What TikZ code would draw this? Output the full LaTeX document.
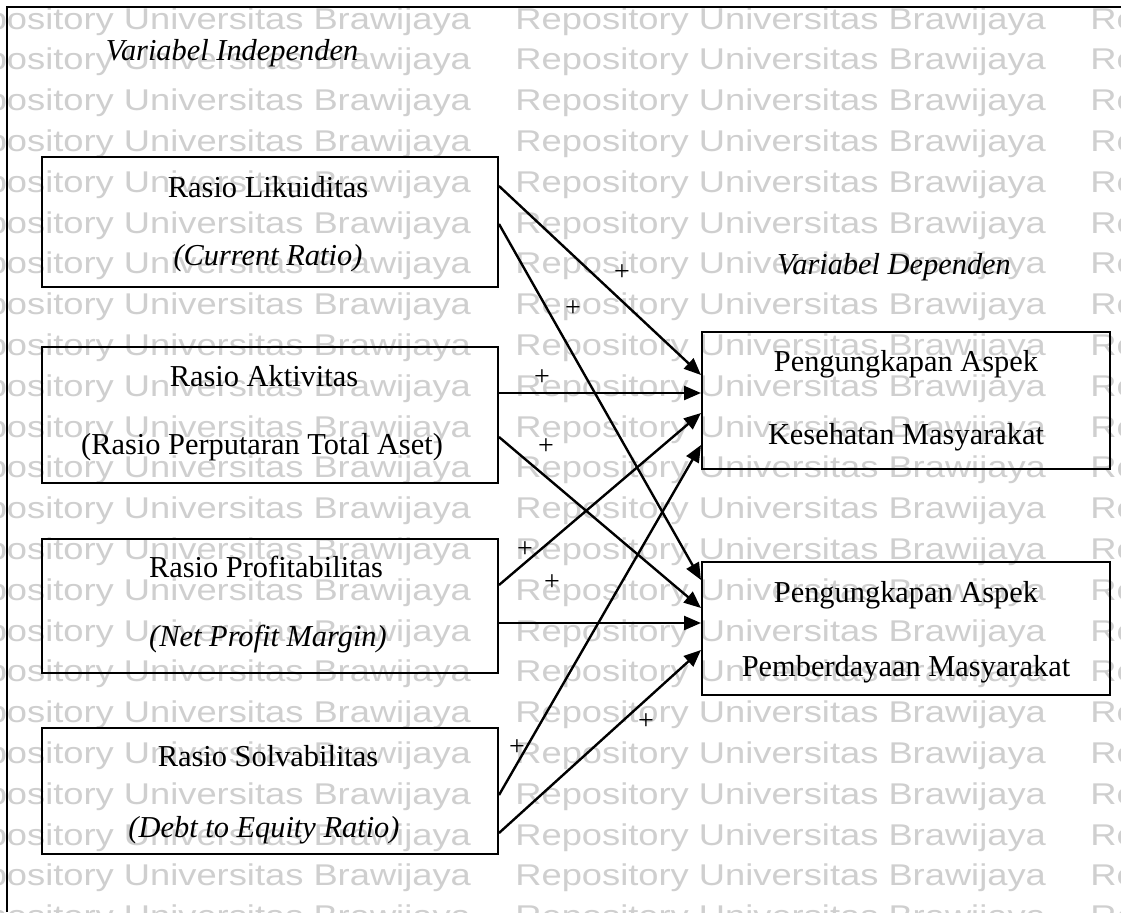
\documentclass[tikz,border=0pt]{standalone}
\usepackage{fontspec}
\setmainfont{Liberation Serif}
\newfontfamily\wmfont{Liberation Sans}
\usepackage{graphicx}
\usetikzlibrary{arrows.meta,calc}
\begin{document}
\begin{tikzpicture}[x=0.5pt,y=-0.5pt,
  wm/.style={anchor=base west, inner sep=0pt, text=black!19, font=\wmfont\fontsize{15}{15}\selectfont},
  box/.style={draw, line width=1pt, inner sep=0pt},
  lbl/.style={anchor=base, inner sep=0pt, font=\fontsize{15.2}{18}\selectfont},
  plus/.style={inner sep=0pt, font=\fontsize{14}{14}\selectfont},
  arr/.style={line width=1.2pt, -{Triangle[length=8.5pt,width=7pt]}},
  frame/.style={line width=1pt}]
\useasboundingbox (0,0) rectangle (1121,912);
\fill[white] (0,0) rectangle (1121,912);
% watermark
\foreach \k in {0,...,22}{
  \foreach \c/\xx in {a/-60,b/515,c/1090}{
    \node[wm] (wm\c\k) at (\xx,{29+40.8*\k}) {\scalebox{1.21}[1]{Repository Universitas Brawijaya}};
  }
}
% outer frame (cut at right and bottom)
\coordinate (f1) at (7,912);
\coordinate (f2) at (7,7);
\coordinate (f3) at (1121,7);
\draw[frame] (f1) -- (f2) -- (f3);
% boxes
\node[box, minimum width=228pt, minimum height=65pt] (l1) at (270,222) {};
\node[box, minimum width=228pt, minimum height=68pt] (l2) at (270,415) {};
\node[box, minimum width=228pt, minimum height=67pt] (l3) at (270,606) {};
\node[box, minimum width=228pt, minimum height=63pt] (l4) at (270,791) {};
\node[box, minimum width=204pt, minimum height=68.5pt] (r1) at (906,400.5) {};
\node[box, minimum width=204pt, minimum height=66.5pt] (r2) at (906,628.5) {};
% texts
\node[lbl] (vi) at (232,60) {\textit{Variabel Independen}};
\node[lbl] (t1a) at (268,197) {Rasio Likuiditas};
\node[lbl] (t1b) at (268,265) {\textit{(Current Ratio)}};
\node[lbl] (t2a) at (264,386) {Rasio Aktivitas};
\node[lbl] (t2b) at (262,454) {(Rasio Perputaran Total Aset)};
\node[lbl] (t3a) at (266,577) {Rasio Profitabilitas};
\node[lbl] (t3b) at (268,646) {\textit{(Net Profit Margin)}};
\node[lbl] (t4a) at (268,766) {Rasio Solvabilitas};
\node[lbl] (t4b) at (264,837) {\textit{(Debt to Equity Ratio)}};
\node[lbl] (vd) at (894,274) {\textit{Variabel Dependen}};
\node[lbl] (u1a) at (906,371) {Pengungkapan Aspek};
\node[lbl] (u1b) at (906,444) {Kesehatan Masyarakat};
\node[lbl] (u2a) at (906,602) {Pengungkapan Aspek};
\node[lbl] (u2b) at (906,676) {Pemberdayaan Masyarakat};
% arrows
\draw[arr] ($(l1.east)+(0,-36)$) -- ($(r1.west)+(0,-25.5)$);
\draw[arr] ($(l1.east)+(0,2)$) -- ($(r2.west)+(0,-48.5)$);
\draw[arr] ($(l2.east)+(0,-22)$) -- ($(r1.west)+(0,-7.5)$);
\draw[arr] ($(l2.east)+(0,22)$) -- ($(r2.west)+(0,-20.5)$);
\draw[arr] ($(l3.east)+(0,-21)$) -- ($(r1.west)+(0,12.5)$);
\draw[arr] ($(l3.east)+(0,17)$) -- ($(r2.west)+(0,-5.5)$);
\draw[arr] ($(l4.east)+(0,4)$) -- ($(r1.west)+(0,44.5)$);
\draw[arr] ($(l4.east)+(0,42)$) -- ($(r2.west)+(0,21.5)$);
% plus signs
\node[plus] (p1) at (622,273) {+};
\node[plus] (p2) at (573,309) {+};
\node[plus] (p3) at (542,378) {+};
\node[plus] (p4) at (546,447) {+};
\node[plus] (p5) at (525,550) {+};
\node[plus] (p6) at (552,583) {+};
\node[plus] (p7) at (646,722) {+};
\node[plus] (p8) at (517,748) {+};
\end{tikzpicture}
\end{document}
